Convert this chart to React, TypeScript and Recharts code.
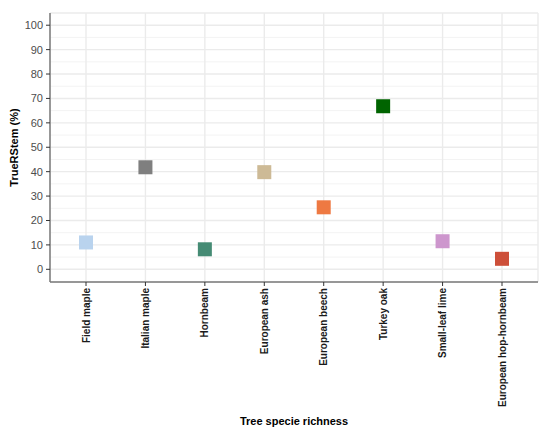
import { ScatterChart, Scatter, Cell, XAxis, YAxis, CartesianGrid, Label } from 'recharts';

const species = [
    'Field maple', 'Italian maple', 'Hornbeam', 'European ash',
    'European beech', 'Turkey oak', 'Small-leaf lime', 'European hop-hornbeam',
];
const trueRStem = [11, 41.8, 8.2, 39.8, 25.4, 66.8, 11.5, 4.3];
const speciesColors = [
    '#b9d3ee', '#7f7f7f', '#458b74', '#cdba96',
    '#ee7942', '#006400', '#cd96cd', '#cd4f39',
];
const yTicks = [0, 10, 20, 30, 40, 50, 60, 70, 80, 90, 100];
const yMinor = [5, 15, 25, 35, 45, 55, 65, 75, 85, 95];

const data = species.map((name, i) => ({ name, value: trueRStem[i] }));

const FONT = '"Liberation Sans", Arial, sans-serif';
const BORDER = '#7a7a7a';

const XTick = ({ x, y, payload }: any) => (
    <text
        x={x}
        y={y}
        transform={`rotate(-90 ${x} ${y})`}
        textAnchor="end"
        dominantBaseline="central"
        fontSize={10}
        fontWeight="bold"
        fill="#1a1a1a"
        fontFamily={FONT}
    >
        {payload.value}
    </text>
);

const Square = ({ cx, cy, fill }: any) => (
    <rect x={cx - 7} y={cy - 7} width={14} height={14} fill={fill} />
);

export default function App() {
    return (
        <div style={{ position: 'absolute', left: 0, top: 0, background: '#fff' }}>
            <ScatterChart
                width={550}
                height={435}
                data={data}
                margin={{ top: 13, right: 12, left: 0, bottom: 0 }}
                style={{ fontFamily: FONT }}
            >
                <CartesianGrid horizontalValues={yMinor} vertical={false} stroke="#f3f3f3" strokeWidth={1} />
                <CartesianGrid stroke="#ebebeb" strokeWidth={1.4} />
                <XAxis
                    dataKey="name"
                    type="category"
                    scale="point"
                    padding={{ left: 36, right: 36 }}
                    allowDuplicatedCategory={false}
                    interval={0}
                    height={153}
                    tick={<XTick />}
                    tickSize={4}
                    tickMargin={2}
                    tickLine={{ stroke: '#333' }}
                    axisLine={{ stroke: BORDER, strokeWidth: 1.5 }}
                >
                    <Label
                        value="Tree specie richness"
                        position="insideBottom"
                        offset={10}
                        style={{ fontSize: 11, fontWeight: 'bold', fill: '#000', fontFamily: FONT }}
                    />
                </XAxis>
                <XAxis
                    xAxisId="top"
                    orientation="top"
                    dataKey="name"
                    type="category"
                    scale="point"
                    height={0}
                    tick={false}
                    tickLine={false}
                    axisLine={{ stroke: BORDER, strokeWidth: 1.5 }}
                />
                <YAxis
                    type="number"
                    dataKey="value"
                    domain={[-5.2, 105]}
                    ticks={yTicks}
                    interval={0}
                    width={50}
                    tickSize={4}
                    tickMargin={3}
                    tick={{ fontSize: 11, fill: '#4d4d4d', fontFamily: FONT }}
                    tickLine={{ stroke: '#333' }}
                    axisLine={{ stroke: BORDER, strokeWidth: 1.5 }}
                >
                    <Label
                        value="TrueRStem (%)"
                        angle={-90}
                        position="insideLeft"
                        offset={14}
                        style={{ textAnchor: 'middle', fontSize: 11, fontWeight: 'bold', fill: '#000', fontFamily: FONT }}
                    />
                </YAxis>
                <YAxis
                    yAxisId="right"
                    orientation="right"
                    type="number"
                    domain={[-5.2, 105]}
                    width={0}
                    tick={false}
                    tickLine={false}
                    axisLine={{ stroke: BORDER, strokeWidth: 1.5 }}
                />
                <Scatter dataKey="value" shape={<Square />} isAnimationActive={false}>
                    {data.map((_, i) => (
                        <Cell key={i} fill={speciesColors[i]} />
                    ))}
                </Scatter>
            </ScatterChart>
        </div>
    );
}
